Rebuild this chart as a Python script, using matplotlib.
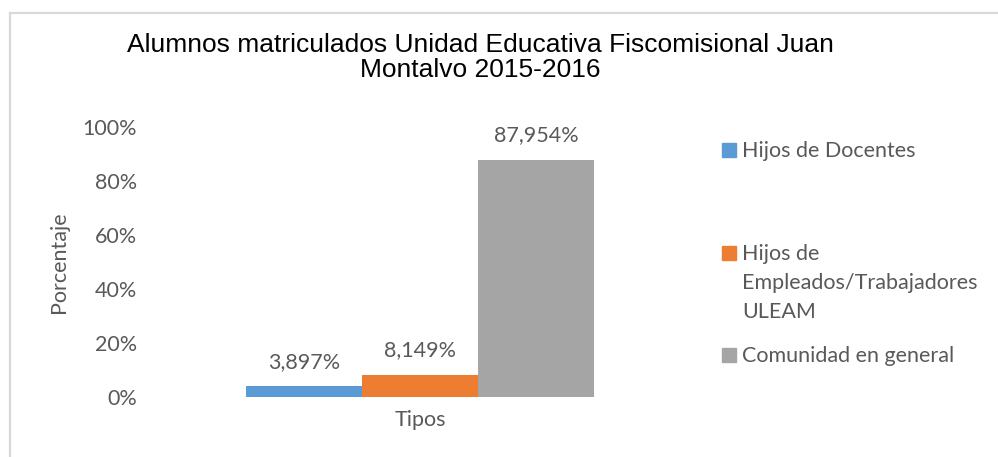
import matplotlib
matplotlib.use("Agg")
import matplotlib.pyplot as plt
from matplotlib.lines import Line2D
from matplotlib.patches import Rectangle

# Data
TITLE = "Alumnos matriculados Unidad Educativa Fiscomisional Juan\nMontalvo 2015-2016"
categories = ["Hijos de Docentes",
              "Hijos de\nEmpleados/Trabajadores\nULEAM",
              "Comunidad en general"]
values = [3.897, 8.149, 87.954]
value_labels = ["3,897%", "8,149%", "87,954%"]
colors = ["#5B9BD5", "#ED7D31", "#A5A5A5"]
yticks = [0, 20, 40, 60, 80, 100]
ytick_labels = ["0%", "20%", "40%", "60%", "80%", "100%"]

W, H = 998, 457
GRAY = "#595959"
BODY_FONT = ["Lato", "DejaVu Sans"]
TITLE_FONT = ["Liberation Sans", "DejaVu Sans"]

fig = plt.figure(figsize=(W / 100, H / 100), dpi=100)

# plot area in pixels: x 145..695, y 127 (100%) .. 397 (0%)
ax = fig.add_axes([145 / W, 1 - 397 / H, 550 / W, 270 / H])

positions = [-1, 0, 1]
ax.bar(positions, values, width=1.0, color=colors)
for x, v, lab in zip(positions, values, value_labels):
    ax.annotate(lab, (x, v), xytext=(0, 13.5), textcoords="offset points",
                ha="center", va="baseline", fontsize=15.5, color=GRAY,
                family=BODY_FONT)

ax.set_xlim(-2.37, 2.37)
ax.set_ylim(0, 100)
ax.set_yticks(yticks)
ax.set_yticklabels(ytick_labels, fontsize=15.5, color=GRAY, family=BODY_FONT)
ax.tick_params(axis="y", length=0, pad=6)
ax.set_xticks([])
for s in ax.spines.values():
    s.set_visible(False)

ax.set_xlabel("Tipos", fontsize=15.5, color=GRAY, family=BODY_FONT, labelpad=9.5)

fig.text(59 / W, 1 - 262 / H, "Porcentaje", rotation=90, ha="center",
         va="center", fontsize=15.5, color=GRAY, family=BODY_FONT)

fig.text(480 / W, 1 - 33 / H, TITLE, ha="center", va="top",
         multialignment="center", fontsize=19, color="black",
         family=TITLE_FONT, linespacing=1.05)

# legend, drawn by hand to keep Excel's spread-out layout
legend_y = [150, 253, 355]
for lab, c, yc in zip(categories, colors, legend_y):
    fig.patches.append(Rectangle((722 / W, 1 - (yc + 7) / H), 14 / W, 14 / H,
                                 transform=fig.transFigure, color=c))
    fig.text(742 / W, 1 - (yc - 9) / H, lab, ha="left", va="top",
             fontsize=15.5, color=GRAY, family=BODY_FONT, linespacing=1.55)

# chart border (only top and left edges visible in the crop)
border = "#D9D9D9"
fig.add_artist(Line2D([10 / W, 997 / W], [1 - 13 / H, 1 - 13 / H],
                      transform=fig.transFigure, color=border, lw=1.6))
fig.add_artist(Line2D([10 / W, 10 / W], [1 - 13 / H, 0],
                      transform=fig.transFigure, color=border, lw=1.6))

fig.savefig("out.png", dpi=100)
